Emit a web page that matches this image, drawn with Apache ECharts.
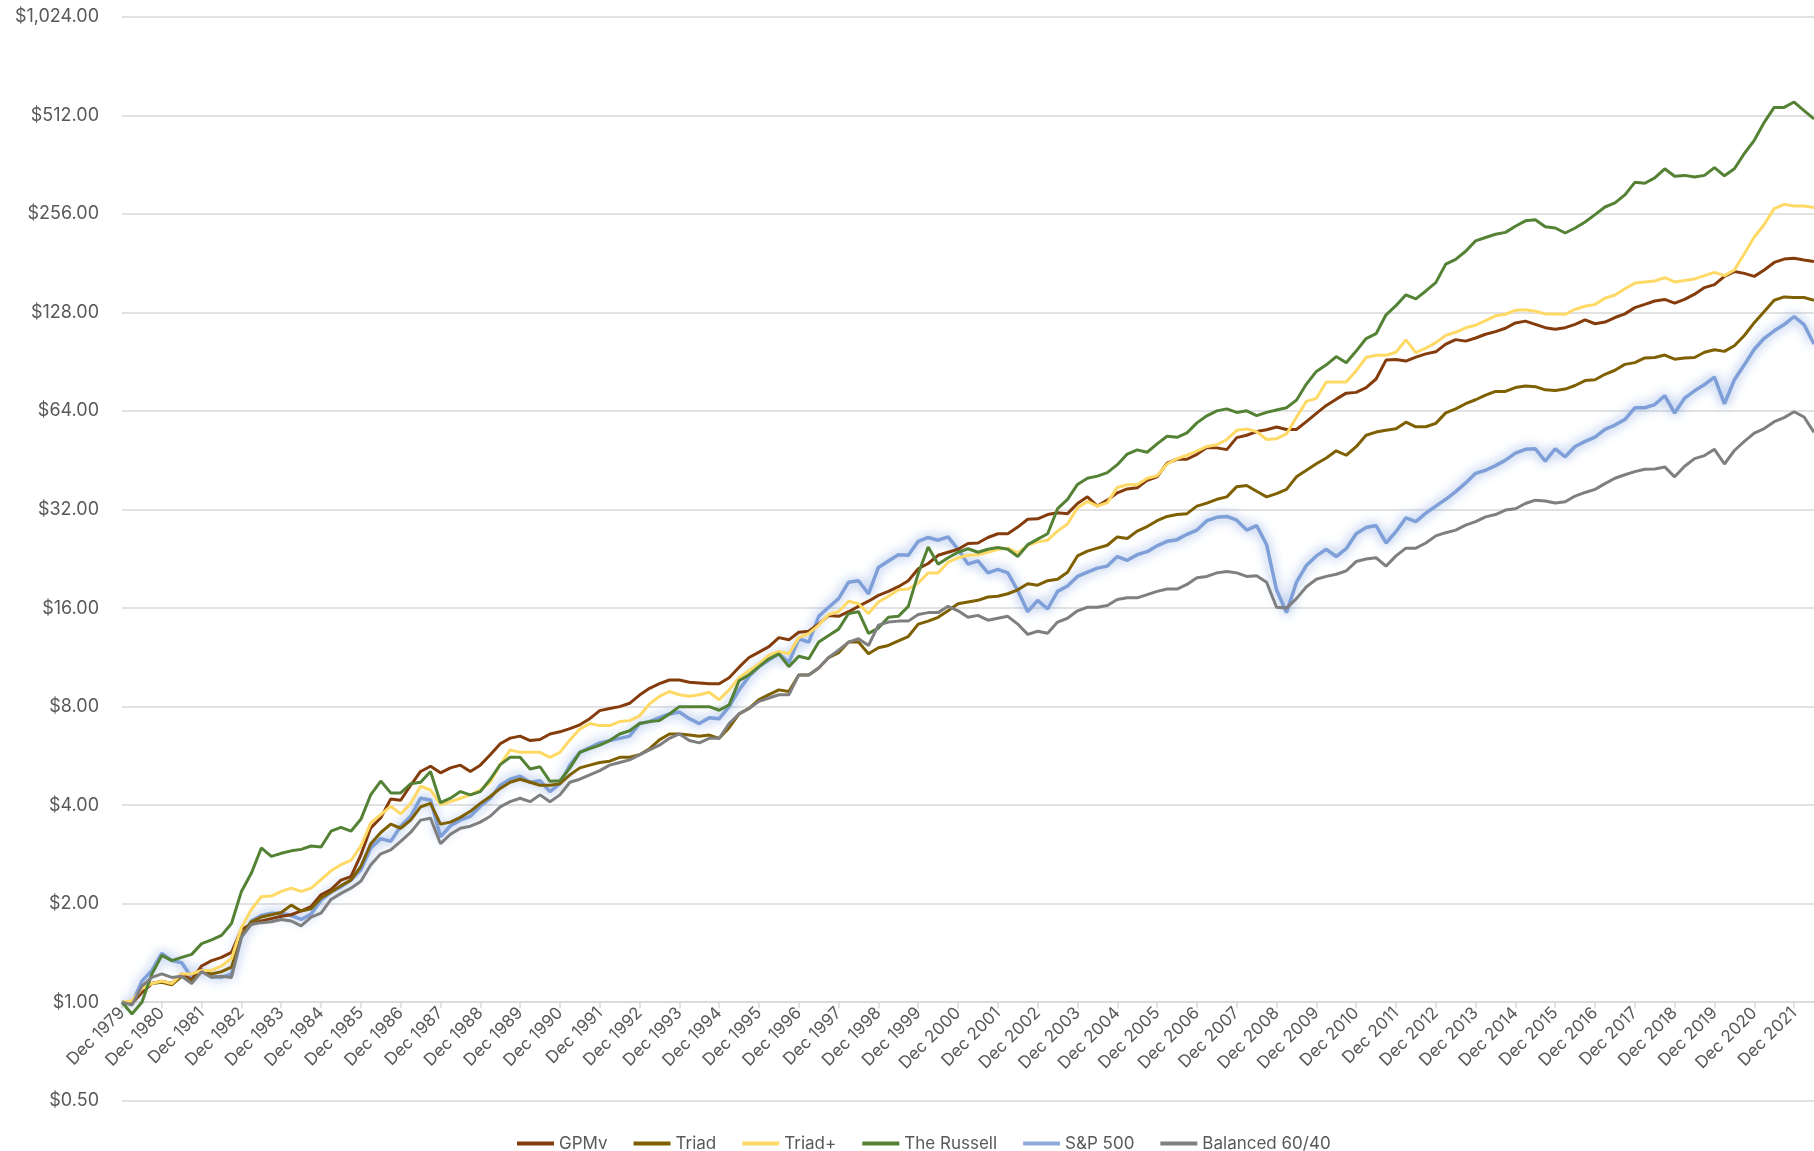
<!DOCTYPE html>
<html>
<head>
<meta charset="utf-8">
<title>Growth of $1</title>
<script src="https://cdn.jsdelivr.net/npm/echarts@6/dist/echarts.min.js"></script>
<style>
  html, body { margin: 0; padding: 0; background: #fff; }
  #chart { width: 1814px; height: 1151px; }
</style>
</head>
<body>
<div id="chart"></div>
<script>
// quarter-end dates, Dec 1979 .. Jun 2022
const quarters = ['Dec 1979']
for (let y = 1980; y <= 2022; y++) {
  for (const mo of ['Mar', 'Jun', 'Sep', 'Dec']) {
    if (y === 2022 && mo === 'Sep') break
    quarters.push(mo + ' ' + y)
  }
}

// growth of $1 at each quarter end
const gpmv = [
  1.00, 0.99, 1.07, 1.14, 1.16, 1.14, 1.22, 1.17, 1.29, 1.34,
  1.37, 1.42, 1.67, 1.73, 1.77, 1.80, 1.83, 1.85, 1.90, 1.96,
  2.13, 2.21, 2.36, 2.42, 2.82, 3.41, 3.66, 4.18, 4.14, 4.60,
  5.07, 5.26, 5.02, 5.20, 5.30, 5.07, 5.30, 5.70, 6.16, 6.41,
  6.50, 6.30, 6.35, 6.60, 6.70, 6.85, 7.04, 7.35, 7.78, 7.90,
  8.00, 8.19, 8.68, 9.10, 9.40, 9.65, 9.65, 9.50, 9.45, 9.40,
  9.40, 9.80, 10.56, 11.30, 11.74, 12.20, 13.00, 12.80, 13.50, 13.60,
  14.30, 15.20, 15.10, 15.60, 16.20, 16.80, 17.50, 18.00, 18.60, 19.40,
  21.10, 21.90, 23.20, 23.70, 24.20, 25.20, 25.30, 26.30, 27.00, 27.00,
  28.30, 29.90, 30.00, 30.90, 31.30, 31.10, 33.40, 35.00, 32.80, 34.20,
  36.00, 37.00, 37.30, 39.30, 40.30, 44.40, 45.60, 45.60, 47.20, 49.50,
  49.40, 48.80, 53.10, 54.00, 55.40, 56.10, 57.20, 56.20, 56.20, 59.40,
  63.00, 66.60, 69.60, 72.60, 73.00, 75.50, 80.20, 91.60, 92.00, 91.00,
  93.50, 95.70, 97.10, 102.50, 105.80, 104.70, 107.00, 109.90, 111.90, 114.60,
  119.00, 120.50, 117.80, 115.10, 113.80, 115.10, 117.80, 121.50, 118.30, 119.70,
  123.60, 126.80, 132.50, 135.60, 138.80, 140.40, 136.80, 140.40, 145.70, 152.60,
  155.80, 165.10, 170.80, 168.60, 165.10, 172.70, 182.10, 186.50, 187.50, 185.30,
  183.20
]

const triad = [
  1.00, 0.99, 1.10, 1.14, 1.15, 1.13, 1.20, 1.16, 1.24, 1.22,
  1.24, 1.28, 1.60, 1.76, 1.82, 1.85, 1.88, 1.98, 1.90, 1.93,
  2.08, 2.17, 2.27, 2.36, 2.60, 3.05, 3.30, 3.50, 3.40, 3.60,
  3.95, 4.05, 3.50, 3.55, 3.67, 3.83, 4.05, 4.25, 4.50, 4.70,
  4.80, 4.70, 4.60, 4.60, 4.65, 4.95, 5.20, 5.30, 5.40, 5.45,
  5.60, 5.60, 5.70, 5.95, 6.33, 6.60, 6.60, 6.55, 6.50, 6.55,
  6.40, 6.90, 7.60, 7.90, 8.40, 8.70, 9.00, 8.90, 10.00, 10.00,
  10.50, 11.30, 11.70, 12.60, 12.60, 11.60, 12.10, 12.30, 12.70, 13.10,
  14.30, 14.60, 15.00, 15.70, 16.50, 16.70, 16.90, 17.30, 17.40, 17.70,
  18.20, 19.00, 18.80, 19.40, 19.60, 20.60, 23.10, 23.90, 24.40, 24.90,
  26.40, 26.10, 27.50, 28.40, 29.60, 30.50, 30.90, 31.10, 32.80, 33.50,
  34.40, 35.00, 37.60, 37.90, 36.40, 35.00, 35.80, 36.90, 40.30, 42.20,
  44.20, 46.00, 48.40, 46.90, 49.80, 54.00, 55.20, 55.90, 56.50, 59.20,
  57.30, 57.30, 58.70, 63.20, 65.00, 67.40, 69.30, 71.60, 73.50, 73.50,
  75.50, 76.30, 76.00, 74.30, 74.00, 74.70, 76.60, 79.30, 79.80, 82.90,
  85.30, 88.90, 90.00, 93.00, 93.30, 94.90, 92.20, 93.00, 93.30, 96.80,
  98.50, 97.40, 101.30, 108.90, 119.20, 128.90, 139.60, 142.90, 142.30, 142.30,
  139.60
]

const triadPlus = [
  1.00, 1.01, 1.10, 1.14, 1.16, 1.14, 1.22, 1.22, 1.25, 1.25,
  1.29, 1.36, 1.69, 1.92, 2.10, 2.11, 2.18, 2.23, 2.18, 2.23,
  2.37, 2.52, 2.63, 2.71, 3.00, 3.53, 3.74, 3.97, 3.76, 4.05,
  4.57, 4.45, 4.02, 4.10, 4.20, 4.30, 4.45, 4.70, 5.32, 5.90,
  5.80, 5.80, 5.80, 5.60, 5.80, 6.33, 6.83, 7.10, 7.00, 7.00,
  7.20, 7.25, 7.50, 8.15, 8.60, 8.90, 8.70, 8.60, 8.70, 8.85,
  8.40, 9.00, 9.80, 10.30, 10.80, 11.50, 11.80, 11.60, 13.00, 13.40,
  14.20, 15.30, 15.60, 16.80, 16.50, 15.40, 16.70, 17.40, 18.20, 18.30,
  19.10, 20.50, 20.50, 22.10, 22.80, 23.20, 23.30, 23.70, 24.20, 24.40,
  23.60, 24.90, 25.50, 25.80, 27.50, 28.90, 32.40, 33.90, 32.80, 33.60,
  37.40, 38.10, 38.10, 39.90, 40.60, 44.10, 45.80, 46.90, 48.30, 49.90,
  50.50, 52.40, 55.90, 56.40, 55.40, 52.40, 52.70, 54.50, 61.30, 68.50,
  70.00, 78.50, 78.50, 78.50, 85.00, 93.30, 94.80, 94.80, 96.80, 105.60,
  96.60, 99.60, 103.60, 109.00, 111.40, 115.00, 117.10, 121.00, 125.10, 126.50,
  130.00, 130.50, 129.20, 126.80, 126.80, 126.40, 131.00, 133.80, 135.60, 141.60,
  144.80, 151.30, 157.50, 158.70, 159.80, 163.60, 158.70, 160.40, 162.20, 166.00,
  169.90, 166.00, 172.70, 193.70, 217.90, 237.80, 266.00, 274.00, 271.00, 271.00,
  268.00
]

const russell = [
  1.00, 0.92, 1.00, 1.22, 1.39, 1.34, 1.37, 1.40, 1.51, 1.55,
  1.60, 1.74, 2.18, 2.48, 2.96, 2.79, 2.85, 2.90, 2.93, 3.00,
  2.98, 3.33, 3.42, 3.33, 3.62, 4.31, 4.74, 4.36, 4.36, 4.65,
  4.70, 5.07, 4.07, 4.20, 4.40, 4.30, 4.40, 4.80, 5.32, 5.60,
  5.60, 5.16, 5.24, 4.73, 4.75, 5.20, 5.80, 5.95, 6.10, 6.30,
  6.60, 6.75, 7.10, 7.20, 7.25, 7.60, 8.00, 8.00, 8.00, 8.00,
  7.80, 8.10, 9.60, 10.00, 10.60, 11.20, 11.60, 10.60, 11.40, 11.20,
  12.60, 13.20, 13.80, 15.40, 15.60, 13.40, 13.90, 15.00, 15.10, 16.20,
  20.40, 24.60, 21.80, 22.80, 23.70, 24.30, 23.70, 24.20, 24.50, 24.20,
  23.00, 25.00, 26.00, 27.00, 32.20, 34.40, 38.20, 39.90, 40.50, 41.50,
  43.90, 47.30, 48.70, 47.90, 50.80, 53.60, 53.20, 54.90, 58.90, 61.90,
  64.10, 65.00, 63.40, 64.10, 62.00, 63.40, 64.50, 65.50, 69.10, 77.40,
  84.60, 88.60, 93.90, 89.90, 97.60, 106.60, 110.30, 126.00, 134.40, 145.00,
  141.00, 149.00, 158.00, 180.00, 186.00, 197.00, 212.00, 217.00, 222.00, 225.00,
  235.00, 244.00, 246.00, 234.00, 232.00, 224.00, 232.00, 242.00, 255.00, 269.00,
  277.00, 293.00, 320.00, 318.00, 330.00, 352.00, 334.00, 336.00, 332.00, 336.00,
  355.00, 335.00, 352.00, 392.00, 430.00, 488.00, 542.00, 542.00, 563.00, 530.00,
  500.00
]

const sp500 = [
  1.00, 0.99, 1.16, 1.25, 1.41, 1.34, 1.32, 1.19, 1.26, 1.20,
  1.19, 1.22, 1.58, 1.77, 1.84, 1.87, 1.87, 1.84, 1.79, 1.86,
  2.05, 2.17, 2.25, 2.36, 2.54, 2.96, 3.16, 3.10, 3.45, 3.70,
  4.20, 4.15, 3.20, 3.46, 3.60, 3.70, 3.97, 4.20, 4.60, 4.80,
  4.90, 4.70, 4.75, 4.40, 4.65, 5.30, 5.80, 6.00, 6.20, 6.30,
  6.40, 6.50, 7.10, 7.20, 7.40, 7.60, 7.70, 7.35, 7.10, 7.40,
  7.35, 8.00, 9.00, 9.90, 10.60, 11.10, 11.60, 10.90, 12.90, 12.60,
  15.10, 16.10, 17.10, 19.20, 19.40, 17.70, 21.30, 22.30, 23.30, 23.20,
  25.60, 26.30, 25.80, 26.40, 24.20, 21.80, 22.30, 20.50, 21.00, 20.50,
  18.10, 15.60, 16.90, 15.90, 18.00, 18.70, 20.00, 20.60, 21.20, 21.50,
  23.00, 22.40, 23.30, 23.80, 24.80, 25.60, 25.90, 26.90, 27.70, 29.60,
  30.30, 30.50, 29.70, 27.70, 28.60, 25.00, 18.20, 15.50, 19.20, 21.60,
  23.10, 24.20, 23.00, 24.30, 27.00, 28.20, 28.60, 25.30, 27.40, 30.20,
  29.40, 31.20, 32.80, 34.40, 36.30, 38.60, 41.30, 42.20, 43.60, 45.30,
  47.60, 48.90, 49.10, 45.00, 49.10, 46.40, 49.90, 51.70, 53.30, 56.30,
  58.00, 60.30, 65.50, 65.50, 67.00, 71.30, 63.10, 70.10, 73.80, 77.10,
  81.30, 67.30, 79.80, 88.60, 98.90, 106.80, 112.60, 117.60, 124.50, 117.60,
  102.60
]

const balanced = [
  1.00, 0.98, 1.12, 1.19, 1.22, 1.19, 1.20, 1.14, 1.24, 1.19,
  1.20, 1.19, 1.58, 1.73, 1.75, 1.76, 1.79, 1.77, 1.71, 1.82,
  1.87, 2.06, 2.15, 2.23, 2.34, 2.63, 2.84, 2.92, 3.10, 3.30,
  3.60, 3.65, 3.05, 3.26, 3.40, 3.45, 3.55, 3.70, 3.95, 4.10,
  4.20, 4.10, 4.30, 4.10, 4.30, 4.70, 4.80, 4.95, 5.10, 5.30,
  5.40, 5.50, 5.70, 5.90, 6.10, 6.40, 6.60, 6.30, 6.20, 6.40,
  6.40, 7.10, 7.60, 7.90, 8.30, 8.50, 8.70, 8.70, 10.00, 10.00,
  10.50, 11.30, 11.90, 12.60, 12.90, 12.30, 14.20, 14.50, 14.60, 14.60,
  15.30, 15.50, 15.50, 16.20, 15.70, 15.00, 15.20, 14.70, 14.90, 15.10,
  14.30, 13.30, 13.60, 13.40, 14.50, 14.90, 15.70, 16.10, 16.10, 16.30,
  17.00, 17.20, 17.20, 17.60, 18.00, 18.30, 18.30, 18.90, 19.80, 20.00,
  20.50, 20.70, 20.50, 20.00, 20.10, 19.20, 16.10, 16.00, 17.10, 18.60,
  19.60, 20.00, 20.30, 20.80, 22.20, 22.60, 22.80, 21.50, 23.10, 24.40,
  24.40, 25.30, 26.60, 27.20, 27.70, 28.70, 29.40, 30.40, 30.90, 31.90,
  32.20, 33.40, 34.20, 34.00, 33.50, 33.80, 35.20, 36.10, 36.90, 38.40,
  39.90, 40.90, 41.80, 42.50, 42.60, 43.20, 40.30, 43.40, 45.80, 46.80,
  48.90, 44.10, 48.50, 51.70, 54.80, 56.60, 59.40, 61.10, 63.70, 61.40,
  55.10
]

const FONT = 'Inter, "Noto Sans", sans-serif'
const TEXT = '#595959'
const GRID = '#d9d9d9'

function money(v) {
  return '$' + Number(v).toLocaleString('en-US', { minimumFractionDigits: 2, maximumFractionDigits: 2 })
}
const isDec = (i, v) => v.indexOf('Dec') === 0

function line(name, data, color, extra) {
  return Object.assign({
    name,
    type: 'line',
    data,
    showSymbol: false,
    symbol: 'none',
    itemStyle: { color },
    lineStyle: { color, width: 3 },
  }, extra || {})
}

const chart = echarts.init(document.getElementById('chart'), null, { renderer: 'canvas' })
chart.setOption({
  animation: false,
  backgroundColor: '#fff',
  textStyle: { fontFamily: FONT },
  grid: { left: 122, right: 0, top: 17, bottom: 50.3 },
  legend: {
    data: ['GPMv', 'Triad', 'Triad+', 'The Russell', 'S&P 500', 'Balanced 60/40'],
    left: 512,
    top: 1130,
    icon: 'rect',
    itemWidth: 37,
    itemHeight: 4,
    itemGap: 26,
    textStyle: { color: TEXT, fontSize: 17, fontFamily: FONT },
  },
  xAxis: {
    type: 'category',
    data: quarters,
    boundaryGap: false,
    offset: -98.5,
    axisLine: { lineStyle: { color: GRID, width: 1.5 } },
    axisTick: { interval: isDec, length: 6, lineStyle: { color: GRID, width: 1.5 } },
    axisLabel: { interval: isDec, rotate: 45, margin: 8, color: TEXT, fontSize: 17, fontFamily: FONT },
    splitLine: { show: false },
  },
  yAxis: {
    type: 'log',
    logBase: 2,
    min: 0.5,
    max: 1024,
    interval: 1,
    axisLine: { show: false },
    axisTick: { show: false },
    axisLabel: { formatter: money, color: TEXT, fontSize: 18, margin: 23, fontFamily: FONT },
    splitLine: { lineStyle: { color: GRID, width: 1.5 } },
  },
  series: [
    // S&P first so its glow sits under the others
    line('S&P 500', sp500, '#8faadc', {
      lineStyle: { color: '#7f9fd9', width: 3.5, shadowColor: 'rgba(120,155,220,1)', shadowBlur: 12 },
    }),
    line('GPMv', gpmv, '#843c0c'),
    line('Triad', triad, '#7f6000'),
    line('Triad+', triadPlus, '#ffd966'),
    line('The Russell', russell, '#548235'),
    line('Balanced 60/40', balanced, '#7f7f7f'),
  ],
})
</script>
</body>
</html>
